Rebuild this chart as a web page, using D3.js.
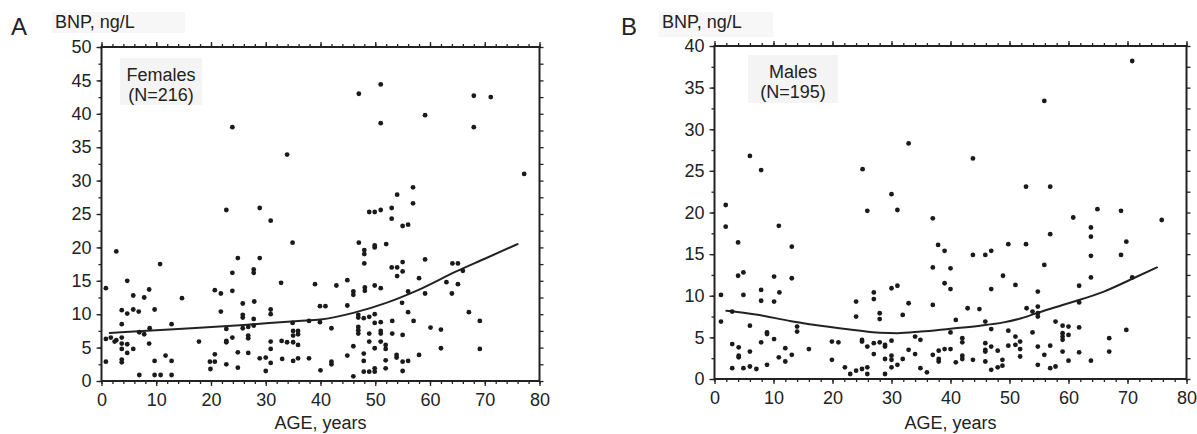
<!DOCTYPE html>
<html>
<head>
<meta charset="utf-8">
<script src="https://cdn.jsdelivr.net/npm/d3@7/dist/d3.min.js"></script>
<style>
  html, body { margin: 0; padding: 0; background: #fff; }
  svg { display: block; font-family: "Liberation Sans", Arial, Helvetica, sans-serif; }
</style>
</head>
<body>
<svg id="chart" width="1197" height="434"></svg>
<script>
// tick labels
const ageTicks = [0, 10, 20, 30, 40, 50, 60, 70, 80];
const femaleBnpTicks = [0, 5, 10, 15, 20, 25, 30, 35, 40, 45, 50];
const maleBnpTicks = [0, 5, 10, 15, 20, 25, 30, 35, 40];

// Females: [age, BNP]
const femalePoints = [
  [33.9,33.9],[22.8,25.6],[28.9,25.9],[30.9,24.0],[34.9,20.7],[2.7,19.4],[24.9,18.4],[28.9,18.4],
  [10.7,17.5],[23.9,16.2],[27.8,16.7],[27.8,16.2],[4.7,15.0],[32.8,14.7],[0.8,13.9],[8.7,13.7],
  [20.7,13.6],[23.9,13.5],
  [5.8,12.8],[7.8,12.5],[14.7,12.4],[21.8,13.1],[25.8,11.6],[27.9,11.9],
  [3.7,10.6],[4.7,10.1],[5.8,10.7],[6.8,10.4],[9.7,10.7],[21.8,10.4],[25.8,9.9],[25.8,9.5],
  [27.8,9.3],[30.9,10.7],[30.9,10.0],
  [3.7,8.5],[12.8,8.5],[34.9,8.7],[22.8,7.8],[25.8,7.9],[26.8,8.1],[27.8,8.3],[8.8,7.9],
  [0.8,6.3],[1.7,6.5],[2.7,6.1],[3.7,6.5],[6.9,7.3],[7.8,7.0],[22.8,6.0],[22.8,5.8],[23.9,6.5],
  [26.8,6.8],[26.8,6.4],[32.9,6.0],[35.0,7.5],[35.0,6.8],[35.0,5.8],
  [2.4,5.9],[3.7,5.6],[4.7,5.5],[3.7,4.8],[4.7,4.2],[5.8,4.8],[8.7,5.6],[17.8,5.9],[30.9,5.9],
  [30.9,4.8],[33.9,5.8],[24.9,4.3],[26.8,4.2],[20.7,4.0],
  [0.8,2.9],[3.7,3.2],[3.7,2.8],[9.7,3.0],[11.7,3.8],[12.8,3.0],[19.8,2.9],[20.7,2.9],[19.9,1.8],
  [22.8,2.5],[24.9,2.0],[28.9,3.4],[30.0,3.5],[30.9,2.7],[30.0,1.5],[33.0,3.3],
  [6.9,0.9],[9.7,0.9],[10.8,0.9],[12.8,0.9],
  [39.0,14.5],[42.9,14.3],[46.0,13.4],[46.0,12.9],[48.1,14.0],[48.1,13.5],[49.9,14.3],[51.0,13.9],
  [56.0,13.4],[59.1,13.1],[63.0,14.8],[64.0,13.1],[65.1,14.5],
  [39.9,11.2],[40.9,11.2],[44.9,11.3],[54.9,11.7],
  [37.9,9.0],[39.9,8.8],[46.9,9.9],[46.9,9.5],[47.9,9.4],[48.9,9.6],[49.9,10.0],[49.9,8.7],
  [51.0,8.8],[53.1,9.0],[56.0,10.3],[57.0,9.0],[67.1,10.3],[69.1,9.0],
  [35.9,7.5],[35.9,7.0],[35.9,5.4],[42.0,7.9],[46.9,8.1],[46.9,7.6],[46.9,7.1],[48.9,7.1],
  [51.0,7.5],[51.0,7.1],[53.1,7.1],[55.0,6.9],[60.1,8.0],[62.0,7.7],
  [48.9,5.9],[51.0,5.9],[46.0,5.2],[51.9,5.4],[51.9,4.8],[49.9,4.9],[58.0,3.9],[62.0,4.9],[69.1,4.8],
  [35.0,3.0],[35.9,3.4],[37.9,3.4],[42.0,2.9],[42.0,2.5],[44.9,3.8],[47.9,4.1],[47.9,3.0],
  [51.9,3.1],[53.9,3.9],[53.9,3.5],[55.0,2.9],[56.0,3.0],
  [40.0,1.6],[46.0,0.7],[47.9,1.4],[48.9,1.4],[49.9,1.4],[49.9,1.9],[51.9,1.9],[55.0,1.5],
  [77.2,31.0],[56.9,29.0],[54.0,27.9],[56.9,26.6],[53.0,25.9],[48.9,25.3],[49.9,25.3],[51.0,25.6],
  [53.0,24.3],[55.0,23.2],[56.0,23.4],
  [47.0,20.7],[48.0,19.6],[48.0,19.0],[49.9,20.3],[49.9,20.0],[52.0,20.5],[48.0,17.6],[59.1,18.2],
  [64.1,17.6],[65.1,17.6],[53.0,17.0],[54.0,17.0],[55.0,17.8],[55.0,16.4],[54.0,15.7],[58.0,15.4],
  [66.0,16.5],[44.9,15.1],
  [47.0,43.0],[51.0,44.4],[51.0,38.6],[59.1,39.8],[68.0,42.7],[71.1,42.5],[68.0,38.0],[23.9,38.0]
];

// Males: [age, BNP]
const malePoints = [
  [6.0,26.8],[7.9,25.1],[25.1,25.2],[32.9,28.3],[1.9,20.9],[25.9,20.2],[30.0,22.2],[31.0,20.3],
  [1.9,18.3],[10.9,18.4],[4.0,16.4],[13.1,15.9],[4.0,12.4],[4.9,12.8],[10.1,12.3],[13.1,12.1],
  [30.0,10.9],[31.0,11.2],[7.9,10.7],
  [1.1,10.1],[4.9,10.1],[7.9,9.4],[10.1,9.3],[11.0,10.4],
  [1.1,6.9],[3.0,8.1],[6.0,6.4],[14.0,6.3],[14.0,5.7],[24.0,9.3],[24.0,7.5],[27.0,10.4],[27.0,9.6],
  [28.0,7.9],[28.0,7.2],[31.9,7.7],[32.9,9.1],
  [3.0,4.2],[4.1,3.8],[4.1,2.8],[4.1,2.6],[6.0,3.3],[7.9,4.4],[8.9,5.6],[8.9,5.4],[10.1,4.8],
  [10.9,2.6],[12.0,3.7],[12.0,2.1],[13.1,2.9],[16.0,3.6],[19.9,4.5],[21.0,4.4],[19.9,2.3],
  [25.0,4.7],[25.0,4.5],[25.9,3.9],[27.0,4.3],[28.0,4.4],[28.9,4.1],[28.9,3.9],[30.0,4.6],
  [27.0,3.0],[28.9,2.4],[30.0,2.8],[30.0,2.3],[31.9,2.4],[32.9,3.5],[34.0,5.1],[34.9,4.7],[34.0,3.0],
  [3.0,1.3],[4.9,1.3],[6.0,1.5],[7.1,1.2],[8.9,1.7],[22.1,1.4],[23.0,0.6],[24.0,1.0],[25.0,1.2],
  [25.9,1.4],[25.9,0.6],[28.9,0.6],[30.0,1.4],[31.0,1.7],[34.9,1.3],[36.0,0.8],
  [39.0,11.5],[40.0,10.8],[46.9,10.8],[51.0,11.3],[54.8,10.5],[61.8,11.2],[61.8,9.2],
  [37.0,8.9],[42.9,8.5],[44.9,8.4],[52.9,8.5],[53.9,8.1],[54.8,8.7],[54.8,7.9],[54.8,7.5],
  [40.9,7.1],[45.9,6.9],[57.8,6.9],[59.0,6.4],[60.0,6.3],[61.8,6.2],
  [40.0,5.6],[42.0,4.9],[42.0,4.4],[46.9,6.0],[49.8,5.8],[51.0,5.1],[51.8,4.5],[53.9,5.6],
  [59.0,5.5],[59.0,5.1],[59.0,4.7],[60.0,5.3],[66.9,4.9],[69.8,5.9],
  [37.0,2.9],[38.0,3.4],[38.0,2.4],[38.0,2.1],[39.0,3.6],[40.0,3.6],[40.9,2.0],[42.0,2.8],
  [42.0,2.4],[43.8,2.3],[45.9,4.3],[45.9,3.5],[45.9,3.3],[45.9,2.1],[46.9,3.9],[48.0,3.4],
  [48.8,2.3],[48.8,1.6],[46.9,1.1],[48.0,1.4],[49.8,4.0],[51.0,4.1],[51.8,3.6],[51.8,2.7],
  [54.8,3.9],[54.8,1.7],[55.9,2.9],[56.9,4.0],[56.9,1.3],[57.8,1.5],[59.0,3.3],[60.0,2.2],
  [61.8,3.2],[63.8,2.2],[66.9,3.3],
  [43.8,26.5],[52.8,23.1],[56.9,23.1],[37.0,19.3],[60.8,19.4],[64.9,20.4],[68.9,20.2],[75.8,19.1],
  [56.9,17.4],[63.8,18.2],[63.8,17.1],[37.9,16.1],[39.0,15.4],[43.8,14.9],[45.9,14.9],[46.9,15.4],
  [49.8,16.2],[52.8,16.2],[69.8,16.5],[63.8,14.8],[68.9,14.9],[37.0,13.4],[40.0,13.3],[55.9,13.7],
  [48.9,12.4],[63.8,12.2],[70.8,12.2],
  [70.8,38.2],[55.9,33.4]
];

// fitted curves: [age, BNP]
const femaleFit = [[1.5,7.2],[14,7.8],[26,8.4],[36,9.0],[40,9.2],[46,10.2],[52,11.7],[57.5,13.5],[64.8,16.4],[70,18.3],[76,20.5]];
const maleFit = [[2,8.2],[7,7.75],[13,6.95],[19,6.3],[24,5.85],[28,5.55],[31,5.5],[35,5.7],[40,6.05],[45,6.4],[49,6.8],[52,7.3],[55,8.0],[60,9.1],[66,10.5],[71,12.1],[75,13.4]];

const svg = d3.select('#chart');
const ink = '#222';

function drawPanel(p) {
  const x = d3.scaleLinear().domain([0, 80]).range([p.left, p.right]);
  const y = d3.scaleLinear().domain([0, p.yMax]).range([p.bottom, p.top]);
  const g = svg.append('g');

  const minorX = d3.range(0, 80.01, 2);
  const minorY = d3.range(0, p.yMax + 0.01, 2.5);

  // background boxes behind labels
  g.append('rect').attr('x', p.unitBox[0]).attr('y', p.unitBox[1])
    .attr('width', p.unitBox[2]).attr('height', p.unitBox[3]).attr('fill', '#f7f7f7');
  g.append('rect').attr('x', p.groupBox[0]).attr('y', p.groupBox[1])
    .attr('width', p.groupBox[2]).attr('height', p.groupBox[3]).attr('fill', '#f4f4f4');

  // minor ticks on all four sides
  const tickStyle = sel => {
    sel.select('.domain').remove();
    sel.selectAll('line').attr('stroke', ink).attr('stroke-width', 1.3);
  };
  g.append('g').attr('transform', `translate(0,${p.bottom})`)
    .call(d3.axisBottom(x).tickValues(minorX).tickSize(3).tickFormat('')).call(tickStyle);
  g.append('g').attr('transform', `translate(0,${p.top})`)
    .call(d3.axisTop(x).tickValues(minorX).tickSize(3).tickFormat('')).call(tickStyle);
  g.append('g').attr('transform', `translate(${p.left},0)`)
    .call(d3.axisLeft(y).tickValues(minorY).tickSize(3).tickFormat('')).call(tickStyle);
  g.append('g').attr('transform', `translate(${p.right},0)`)
    .call(d3.axisRight(y).tickValues(minorY).tickSize(4).tickFormat('')).call(tickStyle);

  // major ticks with labels
  const labelStyle = sel => {
    tickStyle(sel);
    sel.selectAll('text').attr('fill', ink).style('font-size', '18px')
      .style('font-family', '"Liberation Sans", Arial, sans-serif');
  };
  g.append('g').attr('transform', `translate(0,${p.bottom})`)
    .call(d3.axisBottom(x).tickValues(ageTicks).tickSize(5).tickPadding(7)).call(labelStyle);
  g.append('g').attr('transform', `translate(0,${p.top})`)
    .call(d3.axisTop(x).tickValues(ageTicks).tickSize(5).tickFormat('')).call(tickStyle);
  g.append('g').attr('transform', `translate(${p.left},0)`)
    .call(d3.axisLeft(y).tickValues(p.yTicks).tickSize(5).tickPadding(5)).call(labelStyle);

  // frame
  g.append('rect')
    .attr('x', p.left).attr('y', p.top)
    .attr('width', p.right - p.left).attr('height', p.bottom - p.top)
    .attr('fill', 'none').attr('stroke', ink).attr('stroke-width', 2);

  // fitted curve
  const line = d3.line().x(d => x(d[0])).y(d => y(d[1])).curve(d3.curveMonotoneX);
  g.append('path').datum(p.fit)
    .attr('d', line).attr('fill', 'none')
    .attr('stroke', ink).attr('stroke-width', 2).attr('stroke-linecap', 'round');

  // data points
  g.selectAll('circle.dot').data(p.points).enter().append('circle')
    .attr('class', 'dot')
    .attr('cx', d => x(d[0])).attr('cy', d => y(d[1]))
    .attr('r', 2.4).attr('fill', '#1a1a1a');

  // texts
  g.append('text').attr('x', p.letterX).attr('y', 35).text(p.letter)
    .attr('fill', ink).style('font-size', '24px');
  g.append('text').attr('x', p.unitX).attr('y', 28).text('BNP, ng/L')
    .attr('fill', ink).style('font-size', '18px');
  g.append('text').attr('x', p.groupBox[0] + p.groupBox[2] / 2).attr('y', p.groupBox[1] + 23)
    .attr('text-anchor', 'middle').text(p.group)
    .attr('fill', ink).style('font-size', '18px');
  g.append('text').attr('x', p.groupBox[0] + p.groupBox[2] / 2).attr('y', p.groupBox[1] + 43)
    .attr('text-anchor', 'middle').text(p.count)
    .attr('fill', ink).style('font-size', '18px');
  g.append('text').attr('x', (p.left + p.right) / 2).attr('y', 429)
    .attr('text-anchor', 'middle').text('AGE, years')
    .attr('fill', ink).style('font-size', '18px');
}

drawPanel({
  left: 101.5, right: 539.5, top: 47, bottom: 381, yMax: 50,
  yTicks: femaleBnpTicks, points: femalePoints, fit: femaleFit,
  letter: 'A', letterX: 11, unitX: 55,
  unitBox: [52, 12, 133, 21], groupBox: [120, 58, 82, 47],
  group: 'Females', count: '(N=216)'
});

drawPanel({
  left: 714.5, right: 1186.5, top: 46, bottom: 379, yMax: 40,
  yTicks: maleBnpTicks, points: malePoints, fit: maleFit,
  letter: 'B', letterX: 621, unitX: 662,
  unitBox: [659, 12, 114, 25], groupBox: [748, 55, 90, 48],
  group: 'Males', count: '(N=195)'
});
</script>
</body>
</html>
